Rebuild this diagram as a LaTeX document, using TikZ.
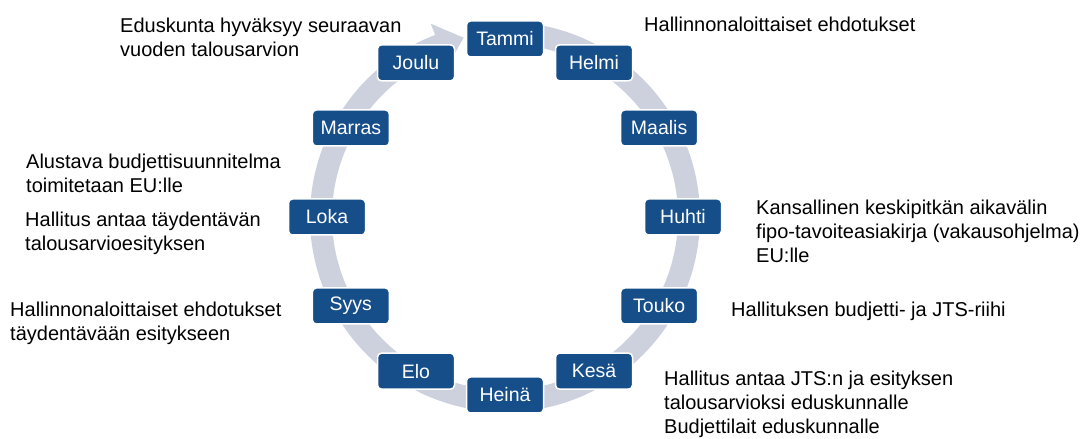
\documentclass[tikz,border=0pt]{standalone}
\usepackage{fontspec}
\setmainfont{Liberation Sans}
\definecolor{monthblue}{RGB}{22,78,138}
\definecolor{ringgray}{RGB}{204,209,221}
\begin{document}
\begin{tikzpicture}[x=1pt,y=1pt,
  month/.style={fill=monthblue, draw=white, line width=1.5pt, rounded corners=4pt,
    minimum width=77pt, minimum height=36pt, inner sep=0pt, text=white,
    font=\fontsize{19.5}{23}\selectfont},
  note/.style={anchor=base west, inner sep=0pt, align=left, text=black,
    font=\fontsize{20}{24}\selectfont}]
\useasboundingbox (0,0) rectangle (1082,439);
\fill[white] (0,0) rectangle (1082,439);
\begin{scope}[shift={(505,222)}]
  \fill[ringgray] (85:195) arc[start angle=85, end angle=-249, radius=195]
    -- (-249:207) -- (-257:184) -- (-249:161) -- (-249:173)
    arc[start angle=-249, end angle=85, radius=173] -- cycle;
  \node[month] (tammi)  at (90:178)  {Tammi};
  \node[month] (helmi)  at (60:178)  {Helmi};
  \node[month] (maalis) at (30:178)  {Maalis};
  \node[month] (huhti)  at (0:178)   {Huhti};
  \node[month] (touko)  at (-30:178) {Touko};
  \node[month] (kesa)   at (-60:178) {Kesä};
  \node[month] (heina)  at (-90:178) {Heinä};
  \node[month] (elo)    at (-120:178) {Elo};
  \node[month] (syys)   at (-150:178) {Syys};
  \node[month] (loka)   at (180:178) {Loka};
  \node[month] (marras) at (150:178) {Marras};
  \node[month] (joulu)  at (120:178) {Joulu};
\end{scope}
% anchor = baseline of the last line
\node[note] (t1) at (120,382) {Eduskunta hyväksyy seuraavan\\vuoden talousarvion};
\node[note] (t2) at (644,407) {Hallinnonaloittaiset ehdotukset};
\node[note] (t3) at (26,246) {Alustava budjettisuunnitelma\\toimitetaan EU:lle};
\node[note] (t4) at (25,188) {Hallitus antaa täydentävän\\talousarvioesityksen};
\node[note] (t5) at (756,176) {Kansallinen keskipitkän aikavälin\\fipo-tavoiteasiakirja (vakausohjelma)\\EU:lle};
\node[note] (t6) at (731,122) {Hallituksen budjetti- ja JTS-riihi};
\node[note] (t7) at (10,98) {Hallinnonaloittaiset ehdotukset\\täydentävään esitykseen};
\node[note] (t8) at (664,5) {Hallitus antaa JTS:n ja esityksen\\talousarvioksi eduskunnalle\\Budjettilait eduskunnalle};
\end{tikzpicture}
\end{document}
